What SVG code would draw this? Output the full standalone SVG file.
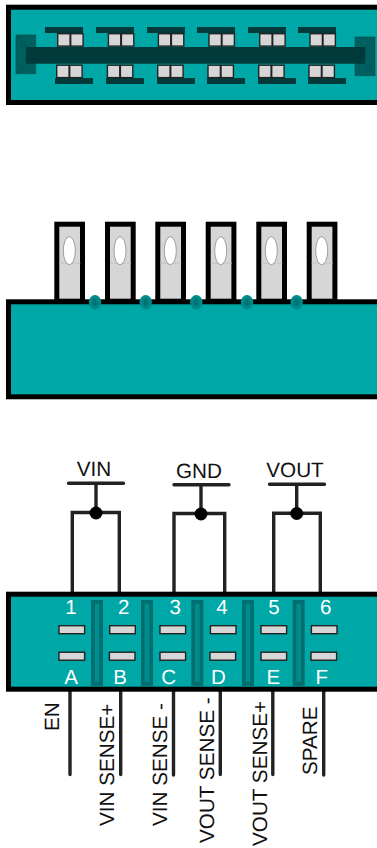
<svg xmlns="http://www.w3.org/2000/svg" width="377" height="848" viewBox="0 0 377 848">
<style>
.body{fill:#00a7a7;stroke:#000;stroke-width:5}
.bar{fill:#003a3a}
.cap{fill:#005f5f;stroke:#004a4a;stroke-width:.6}
.pad{fill:#d6d6d6;stroke:#222;stroke-width:1.4}
.pin{fill:#d6d6d6;stroke:#000;stroke-width:5}
.hole{fill:#fff;stroke:#8a8a8a;stroke-width:.8}
.seam{stroke:#c6c6c6;stroke-width:1;fill:none}
.bump{fill:#008a8a}
.bumpc{fill:#007575}
.col{fill:#006f6f}
.coli{fill:#008c8c}
.wire{fill:none;stroke:#222;stroke-width:3.4;stroke-linecap:round}
.dot{fill:#000}
text{font-family:"Liberation Sans",Arial,sans-serif;text-rendering:geometricPrecision}
.w{fill:#fff;font-size:20.5px;text-anchor:middle}
.k{fill:#111;font-size:20.7px}
.m{text-anchor:middle}
</style>
<defs>
<g id="pair"><rect class="pad" x="0.7" y="0.7" width="12.4" height="12.4"/><rect class="pad" x="13.7" y="0.7" width="12.4" height="12.4"/></g>
<g id="pinshape"><rect class="pin" x="2.5" y="2.5" width="25.7" height="77" /><path class="seam" d="M5 41.5H26"/><ellipse class="hole" cx="15" cy="29" rx="6" ry="14"/></g>
<g id="bumpshape"><ellipse class="bump" cx="0" cy="0" rx="6.2" ry="7.2"/><ellipse class="bumpc" cx="0" cy="0" rx="2.8" ry="4"/></g>
<g id="column"><rect class="col" x="0" y="0" width="12" height="86"/><rect class="coli" x="3.7" y="3.7" width="4.6" height="78"/></g>
<rect id="slot" class="pad" x="0.7" y="0.7" width="25.6" height="8"/>
</defs>

<g id="top-view">
<rect class="body" x="8.5" y="7.2" width="400" height="95.3"/>
<path class="cap" d="M16 35H35.7V73.7H16Z"/>
<path d="M16 35L26 47V64L16 73.7M35.7 35H35.7" fill="none" stroke="#004a4a" stroke-width=".6"/>
<path class="cap" d="M355 37H375V75.7H355Z"/>
<path d="M375 37L365 47V64L375 75.7" fill="none" stroke="#004a4a" stroke-width=".6"/>
<rect class="bar" x="26" y="47" width="339" height="16.7"/>
<g class="bar">
<rect x="45" y="27" width="38" height="6"/><rect x="96" y="27" width="38" height="6"/><rect x="147" y="27" width="38" height="6"/><rect x="197" y="27" width="38" height="6"/><rect x="248" y="27" width="38" height="6"/><rect x="298" y="27" width="38" height="6"/>
<rect x="55" y="78" width="38" height="6"/><rect x="106" y="78" width="38" height="6"/><rect x="157" y="78" width="38" height="6"/><rect x="207" y="78" width="38" height="6"/><rect x="258" y="78" width="38" height="6"/><rect x="308" y="78" width="38" height="6"/>
</g>
<use href="#pair" x="57" y="33"/><use href="#pair" x="107.7" y="33"/><use href="#pair" x="157.7" y="33"/><use href="#pair" x="208.3" y="33"/><use href="#pair" x="259" y="33"/><use href="#pair" x="309.3" y="33"/>
<use href="#pair" x="56" y="64.5"/><use href="#pair" x="106.7" y="64.5"/><use href="#pair" x="157" y="64.5"/><use href="#pair" x="207.3" y="64.5"/><use href="#pair" x="258" y="64.5"/><use href="#pair" x="308.3" y="64.5"/>
</g>

<g id="side-view">
<use href="#pinshape" x="54.3" y="221.7"/><use href="#pinshape" x="105" y="221.7"/><use href="#pinshape" x="155.3" y="221.7"/><use href="#pinshape" x="205.7" y="221.7"/><use href="#pinshape" x="256.3" y="221.7"/><use href="#pinshape" x="306.7" y="221.7"/>
<rect class="body" x="8.5" y="301.8" width="400" height="95"/>
<use href="#bumpshape" x="95" y="302.3"/><use href="#bumpshape" x="145.7" y="302.3"/><use href="#bumpshape" x="196.3" y="302.3"/><use href="#bumpshape" x="247" y="302.3"/><use href="#bumpshape" x="296.7" y="302.3"/>
</g>

<g id="connectors">
<path class="wire" d="M68.5 483.3H123.5M96 483.3V513M72.3 592V512.5H119.3V592"/>
<path class="wire" d="M174 484.7H229M201 484.7V514M174 592V513.5H224.7V592"/>
<path class="wire" d="M269.5 484.3H324.5M296.7 484.3V514M273.7 592V513.3H320.3V592"/>
<path class="wire" d="M70 690V774.5M120.7 690V774.5M173.5 690V775M220.3 690V774.5M272.8 690V774.5M323.7 690V775"/>
<circle class="dot" cx="96" cy="513" r="6.5"/><circle class="dot" cx="201" cy="514" r="6.5"/><circle class="dot" cx="296.7" cy="513.5" r="6.5"/>
</g>

<g id="front-view">
<rect class="body" x="8.5" y="594.2" width="400" height="95"/>
<use href="#column" x="91" y="600"/><use href="#column" x="141" y="600"/><use href="#column" x="191.3" y="600"/><use href="#column" x="242" y="600"/><use href="#column" x="292.7" y="600"/>
<use href="#slot" x="58.3" y="625"/><use href="#slot" x="109" y="625"/><use href="#slot" x="159.3" y="625"/><use href="#slot" x="209.7" y="625"/><use href="#slot" x="260.3" y="625"/><use href="#slot" x="310.7" y="625"/>
<use href="#slot" x="58.3" y="651.5"/><use href="#slot" x="108.7" y="651.5"/><use href="#slot" x="159.3" y="651.5"/><use href="#slot" x="209.3" y="651.5"/><use href="#slot" x="260.3" y="651.5"/><use href="#slot" x="310.3" y="651.5"/>
<text class="w" x="71" y="614">1</text><text class="w" x="123.7" y="614">2</text><text class="w" x="175.3" y="614">3</text><text class="w" x="222" y="614">4</text><text class="w" x="274" y="614">5</text><text class="w" x="325.7" y="614">6</text>
<text class="w" x="71" y="684">A</text><text class="w" x="120" y="684">B</text><text class="w" x="168.7" y="684">C</text><text class="w" x="218.3" y="684">D</text><text class="w" x="273.3" y="684">E</text><text class="w" x="321.7" y="684">F</text>
</g>

<g id="labels">
<text class="k m" x="94" y="476">VIN</text>
<text class="k m" x="199" y="478">GND</text>
<text class="k m" x="295" y="477">VOUT</text>
<text class="k" transform="translate(59.3 731) rotate(-90)">EN</text>
<text class="k" transform="translate(114.3 826) rotate(-90)">VIN SENSE+</text>
<text class="k" transform="translate(167.3 826) rotate(-90)">VIN SENSE -</text>
<text class="k" transform="translate(214 843) rotate(-90)">VOUT SENSE -</text>
<text class="k" transform="translate(266.7 846) rotate(-90)">VOUT SENSE+</text>
<text class="k" transform="translate(317.3 775) rotate(-90)">SPARE</text>
</g>
</svg>
